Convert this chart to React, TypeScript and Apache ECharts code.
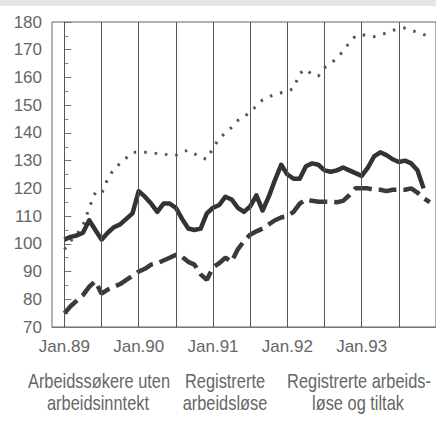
import React, { useEffect, useRef } from "react";
import * as echarts from "echarts";

// month index 0 = Jan.89
const tickLabels = ["Jan.89", "Jan.90", "Jan.91", "Jan.92", "Jan.93"];
const labelMonths = [0, 12, 24, 36, 48];
const gridMonths = [0, 6, 12, 18, 24, 30, 36, 42, 48, 54];

const seriesNames = [
  "Arbeidssøkere uten arbeidsinntekt",
  "Registrerte arbeidsløse",
  "Registrerte arbeidsløse og tiltak",
];

const solidValues = [
  101.5, 102.5, 103, 104, 108.5, 105, 101.5, 104, 106, 107, 109, 111,
  119, 117, 114.5, 111.5, 114.5, 114.5, 113, 109, 105.5, 105, 105.5, 111,
  113, 114, 117, 116, 113, 111.5, 113.5, 117.5, 112, 117, 123, 128.5,
  125, 123.5, 123.5, 128, 129, 128.5, 126.5, 126, 126.5, 127.5, 126.5, 125.5,
  124.5, 127.5, 131.5, 133, 132, 130.5, 129.5, 130, 129, 126.5, 120,
];

const dashedValues = [
  75, 77.5, 79.5, 81.5, 84.5, 86.5, 82, 83.5, 84.5, 85.5, 87, 88.5,
  90, 91, 92.5, 93, 94, 95, 96, 95.3, 93.5, 92.5, 89, 87,
  91.5, 93, 95, 93.5, 98, 101, 103.3, 104.5, 105.5, 107, 108.5, 109.5,
  110, 111.5, 114.5, 116, 115.5, 115.2, 115.2, 115.2, 115, 115.5, 117.5, 120,
  120, 120, 119.5, 119.5, 119, 119.5, 119.5, 119.5, 120, 118.5, 116.5, 115,
];

const dottedValues = [
  98, 101, 103.5, 106.5, 113, 118.5, 118, 123.5, 127, 129, 131, 133,
  133, 133, 133, 132.5, 132.5, 131.8, 132, 133.2, 133.7, 132.5, 131, 130.5,
  134.5, 138, 140, 142, 144.5, 145.5, 148, 149.5, 152, 153, 154, 154.5,
  155, 156, 161.5, 163, 161, 160.5, 163.5, 165, 167, 169.5, 172.5, 175,
  175.5, 175, 174.7, 175.5, 176, 177, 177.5, 177.8, 177, 176.3, 175.5, 175,
];

const legendLines = [
  ["Arbeidssøkere uten", "arbeidsinntekt"],
  ["Registrerte", "arbeidsløse"],
  ["Registrerte arbeids-", "løse og tiltak"],
];

const FONT = "'Liberation Sans', Arial, sans-serif";
const TEXT = "#666";

const toPairs = (vals: number[]) => vals.map((v, i) => [i, v]);

export default function App() {
  const ref = useRef<HTMLDivElement>(null);
  useEffect(() => {
    document.body.style.margin = "0";
    if (!ref.current) return;
    const chart = echarts.init(ref.current, undefined, { renderer: "svg" });
    const legendX = [[99, 98], [225, 225], [359, 358]];
    const graphics: any[] = [
      { type: "rect", left: 0, top: 0, shape: { width: 436, height: 6 }, style: { fill: "#e6e6e6" }, silent: true },
    ];
    legendLines.forEach((lines, i) => {
      lines.forEach((t, j) => {
        graphics.push({
          type: "text",
          x: legendX[i][j],
          y: 381 + j * 22,
          scaleX: 0.82,
          style: { text: t, fill: TEXT, font: `20px ${FONT}`, textAlign: "center", textVerticalAlign: "middle" },
          silent: true,
        });
      });
    });
    chart.setOption({
      animation: false,
      backgroundColor: "#fff",
      grid: { left: 52, top: 22, width: 386, height: 305, show: true, borderColor: "#666", borderWidth: 1 },
      xAxis: {
        type: "value",
        min: -2,
        max: 60,
        axisLine: { show: true, lineStyle: { color: "#777", width: 1 } },
        axisTick: { show: false },
        splitLine: { show: false },
        axisLabel: {
          customValues: labelMonths,
          formatter: (v: number) => tickLabels[labelMonths.indexOf(v)] ?? "",
          color: TEXT,
          fontSize: 17,
          fontFamily: FONT,
          margin: 11,
        },
      },
      yAxis: {
        type: "value",
        min: 70,
        max: 180,
        interval: 10,
        axisLine: { show: true, lineStyle: { color: "#777", width: 1 } },
        axisTick: { show: true, inside: true, length: 7, lineStyle: { color: "#777" } },
        minorTick: { show: true, splitNumber: 2, length: 4, lineStyle: { color: "#888" } },
        splitLine: { show: false },
        axisLabel: { color: TEXT, fontSize: 17, fontFamily: FONT, margin: 10 },
      },
      graphic: graphics,
      series: [
        {
          type: "line",
          data: [],
          z: 1,
          markLine: {
            silent: true,
            symbol: "none",
            label: { show: false },
            lineStyle: { color: "#555", width: 1, type: "solid" },
            data: gridMonths.map((m) => ({ xAxis: m })),
          },
        },
        {
          name: seriesNames[2],
          type: "line",
          data: toPairs(dottedValues),
          showSymbol: false,
          z: 3,
          lineStyle: { color: "#555", width: 3, type: [2.5, 8], cap: "butt" },
        },
        {
          name: seriesNames[1],
          type: "line",
          data: toPairs(dashedValues),
          showSymbol: false,
          z: 3,
          lineStyle: { color: "#3a3a3a", width: 4.5, type: [18, 7], cap: "butt" },
        },
        {
          name: seriesNames[0],
          type: "line",
          data: toPairs(solidValues),
          showSymbol: false,
          z: 4,
          lineStyle: { color: "#333", width: 4.5, join: "round" },
        },
      ],
    });
    return () => chart.dispose();
  }, []);
  return <div ref={ref} style={{ width: 436, height: 423 }} />;
}
